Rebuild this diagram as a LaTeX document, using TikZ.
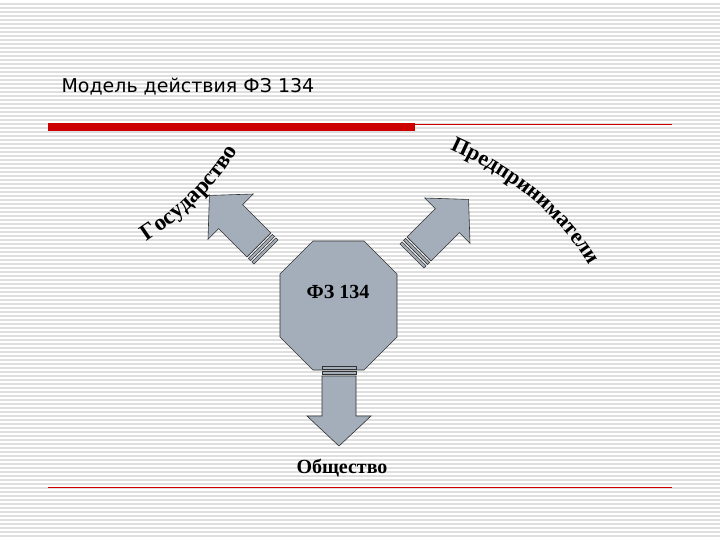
\documentclass[tikz,border=0pt]{standalone}
\usepackage{fontspec}
\setmainfont{Liberation Serif}
\newfontfamily\titlefont{DejaVu Sans}
\usetikzlibrary{decorations.text}
\definecolor{shp}{HTML}{A4AEBA}
\begin{document}
\begin{tikzpicture}[x=1pt,y=-1pt,
  shapefill/.style={fill=shp, draw=black!80, line width=0.6pt},
  lbl/.style={font=\bfseries\fontsize{20}{22}\selectfont}]
\useasboundingbox (0,0) rectangle (720,540);
\fill[white] (0,0) rectangle (720,540);
\foreach \k in {1,...,134} \draw[gray!25, line width=1.1pt] (0,\k*4) -- (720,\k*4);
% title & bars
\node[anchor=west, font=\titlefont\fontsize{19}{22}\selectfont] (title) at (58,87) {Модель действия ФЗ 134};
\fill[red!80!black] (48,123) rectangle (415,131);
\draw[red!80!black, line width=0.6pt] (415,124) -- (672,124);
\draw[red!80!black, line width=0.6pt] (48,487) -- (672,487);
\def\arrowshape{
  \filldraw[shapefill] (-17,0) rectangle (17,3);
  \filldraw[shapefill] (-17,5) rectangle (17,8);
  \filldraw[shapefill] (-17,10) -- (17,10) -- (17,50) -- (32,50) -- (0,80) -- (-32,50) -- (-17,50) -- cycle;}
% octagon
\filldraw[shapefill] (313,241) -- (364,241) -- (397,274) -- (397,337) -- (364,370) -- (313,370) -- (280,337) -- (280,274) -- cycle;
\node[lbl] (fz) at (338,292) {ФЗ 134};
\begin{scope}[shift={(339,366)}] \arrowshape \end{scope}
\begin{scope}[shift={(266,252)}, rotate=-135] \arrowshape \end{scope}
\begin{scope}[shift={(412,256)}, rotate=135] \arrowshape \end{scope}
\node[lbl] (ob) at (342,468) {Общество};
\path[decorate, decoration={text along path, text={|\bfseries\fontsize{23}{26}\selectfont|Государство}, text align=center}]
  (125,255) .. controls (175,225) and (220,190) .. (250,128);
\path[decorate, decoration={text along path, text={|\bfseries\fontsize{22}{25}\selectfont|Предприниматели}, text align=center}]
  (440,145) .. controls (500,170) and (560,210) .. (595,275);
\end{tikzpicture}
\end{document}
